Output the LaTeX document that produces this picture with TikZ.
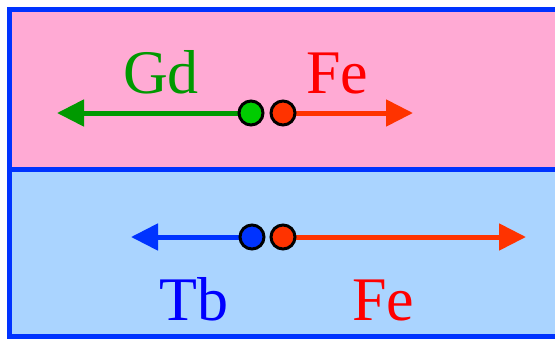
\documentclass[tikz,border=0pt]{standalone}
\usepackage{fontspec}
\setmainfont{Liberation Serif}
\usetikzlibrary{arrows.meta,backgrounds}
\definecolor{pinkbg}{HTML}{FFAAD4}
\definecolor{bluebg}{HTML}{AAD4FF}
\definecolor{frameblue}{HTML}{0033FF}
\definecolor{gdgreen}{HTML}{009900}
\definecolor{dotgreen}{HTML}{00CC00}
\definecolor{fered}{HTML}{FF3300}
\definecolor{tbblue}{HTML}{0033FF}
\tikzset{
  atom/.style={circle, draw=black, line width=3pt, minimum size=24pt, inner sep=0pt},
  spin/.style={line width=5pt, -{Triangle[length=27pt,width=26pt]}},
  lbl/.style={font=\fontsize{62}{62}\selectfont, anchor=base, inner sep=0pt},
}
\begin{document}
\begin{tikzpicture}[x=1pt,y=-1pt]
\useasboundingbox (0,0) rectangle (555,338);
% atoms and labels
\node[atom, fill=dotgreen] (gd) at (251,113) {};
\node[atom, fill=fered] (fe1) at (283,113) {};
\node[atom, fill=tbblue] (tb) at (252,237) {};
\node[atom, fill=fered] (fe2) at (283,237) {};
\coordinate (gdtip) at (57,113);
\coordinate (fetip1) at (413,113);
\coordinate (tbtip) at (131,237);
\coordinate (fetip2) at (526,237);
\node[lbl, text=gdgreen] (gdl) at (161,93) {Gd};
\node[lbl, text=red] (fel1) at (337,93) {Fe};
\node[lbl, text=blue] (tbl) at (194,320) {Tb};
\node[lbl, text=red] (fel2) at (383,320) {Fe};
\begin{scope}[on background layer]
\fill[pinkbg] (9,9) rectangle (575,169.5);
\fill[bluebg] (9,169.5) rectangle (575,336);
\draw[frameblue, line width=5pt] (9,9) rectangle (575,336);
\draw[frameblue, line width=5pt] (9,169.5) -- (575,169.5);
\draw[spin, gdgreen] (gd.center) -- (gdtip);
\draw[spin, fered] (fe1.center) -- (fetip1);
\draw[spin, tbblue] (tb.center) -- (tbtip);
\draw[spin, fered] (fe2.center) -- (fetip2);
\end{scope}
\end{tikzpicture}
\end{document}
